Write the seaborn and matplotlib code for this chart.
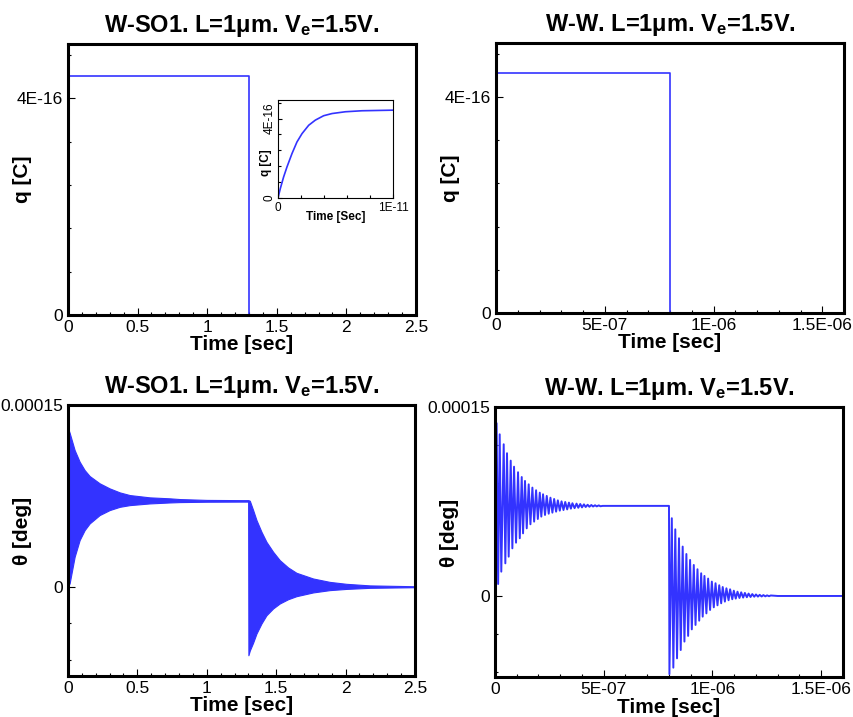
import numpy as np
import pandas as pd
import matplotlib
matplotlib.use('Agg')
import matplotlib.pyplot as plt
import seaborn as sns
from matplotlib.ticker import FixedLocator, FixedFormatter, MultipleLocator

# ---------------- data ----------------
# charge q(t): step, then switched off
q_so1_t = [0.0, 1.3, 1.3, 2.5]
q_so1_v = [4.41e-16, 4.41e-16, 0.0, 0.0]
q_ww_t = [0.0, 8.0e-7, 8.0e-7, 1.6e-6]
q_ww_v = [4.44e-16, 4.44e-16, 0.0, 0.0]

# inset: charging transient of W-SO1
inset_t = [0.0, 0.2e-12, 0.49e-12, 0.78e-12, 1.22e-12, 1.65e-12, 2.09e-12,
           2.67e-12, 3.25e-12, 3.97e-12, 4.70e-12, 5.86e-12, 7.30e-12, 10.0e-12]
inset_v = [0.0, 0.47e-16, 1.06e-16, 1.56e-16, 2.24e-16, 2.82e-16, 3.24e-16,
           3.66e-16, 3.92e-16, 4.14e-16, 4.25e-16, 4.34e-16, 4.39e-16, 4.42e-16]

# theta W-SO1: envelope of the (unresolved) fast oscillation
so1_env_t = [0.0, 0.012, 0.048, 0.084, 0.12, 0.156, 0.228, 0.30, 0.373, 0.445,
             0.589, 0.733, 0.806, 1.0, 1.26, 1.298,
             1.30, 1.31, 1.334, 1.358, 1.394, 1.43, 1.478, 1.526, 1.586, 1.646,
             1.766, 1.886, 2.006, 2.175, 2.5]
so1_env_hi = [13.1e-5, 12.7e-5, 11.28e-5, 10.32e-5, 9.63e-5, 9.14e-5, 8.54e-5, 8.12e-5, 7.79e-5, 7.57e-5,
              7.38e-5, 7.30e-5, 7.24e-5, 7.17e-5, 7.15e-5, 7.15e-5,
              7.15e-5, 7.10e-5, 6.33e-5, 5.51e-5, 4.54e-5, 3.71e-5, 2.89e-5, 2.20e-5, 1.60e-5, 1.16e-5,
              0.69e-5, 0.41e-5, 0.25e-5, 0.12e-5, 0.05e-5]
so1_env_lo = [0.0, 0.3e-5, 2.48e-5, 3.86e-5, 4.68e-5, 5.23e-5, 5.92e-5, 6.33e-5, 6.60e-5, 6.74e-5,
              6.88e-5, 6.96e-5, 6.99e-5, 7.02e-5, 7.03e-5, 7.03e-5,
              -5.64e-5, -5.25e-5, -4.6e-5, -3.85e-5, -3.02e-5, -2.34e-5, -1.78e-5, -1.37e-5, -1.02e-5, -0.77e-5,
              -0.46e-5, -0.27e-5, -0.17e-5, -0.08e-5, -0.03e-5]

# theta W-W: turning points of the oscillation
ww_hi_t = [0.75e-8, 2.17e-8, 4.01e-8, 5.53e-8, 7.23e-8, 8.76e-8, 10.6e-8, 12.3e-8, 13.8e-8, 15.5e-8,
           17.2e-8, 18.9e-8, 20.6e-8, 22.1e-8, 23.8e-8, 25.5e-8, 27.2e-8, 28.9e-8, 30.6e-8, 32.3e-8,
           34.0e-8, 35.6e-8, 37.5e-8, 39.2e-8, 40.9e-8, 42.6e-8, 44.3e-8, 46.0e-8, 47.7e-8,
           8.13e-7, 8.29e-7, 8.46e-7, 8.63e-7, 8.80e-7, 8.97e-7, 9.14e-7, 9.31e-7, 9.48e-7, 9.63e-7,
           9.80e-7, 9.97e-7, 10.14e-7, 10.31e-7, 10.47e-7, 10.64e-7, 10.81e-7, 10.98e-7, 11.15e-7, 11.32e-7,
           11.49e-7, 11.66e-7, 11.83e-7, 12.00e-7, 12.17e-7, 12.34e-7, 12.51e-7, 12.68e-7]
ww_hi_v = [13.71e-5, 12.83e-5, 12.04e-5, 11.33e-5, 10.74e-5, 10.26e-5, 9.82e-5, 9.44e-5, 9.13e-5, 8.86e-5,
           8.60e-5, 8.39e-5, 8.20e-5, 8.07e-5, 7.94e-5, 7.80e-5, 7.70e-5, 7.59e-5, 7.51e-5, 7.46e-5,
           7.41e-5, 7.36e-5, 7.33e-5, 7.30e-5, 7.27e-5, 7.24e-5, 7.22e-5, 7.20e-5, 7.19e-5,
           6.17e-5, 5.29e-5, 4.58e-5, 3.92e-5, 3.33e-5, 2.86e-5, 2.46e-5, 2.12e-5, 1.80e-5, 1.59e-5,
           1.38e-5, 1.14e-5, 1.01e-5, 0.85e-5, 0.71e-5, 0.61e-5, 0.53e-5, 0.42e-5, 0.34e-5, 0.29e-5,
           0.24e-5, 0.19e-5, 0.15e-5, 0.12e-5, 0.09e-5, 0.07e-5, 0.05e-5, 0.04e-5]
ww_lo_t = [1.45e-8, 2.9e-8, 4.76e-8, 6.3e-8, 7.99e-8, 9.68e-8, 11.4e-8, 12.9e-8, 14.6e-8, 16.3e-8,
           18.0e-8, 19.7e-8, 21.3e-8, 23.0e-8, 24.7e-8, 26.4e-8, 28.1e-8, 29.8e-8, 31.5e-8, 33.2e-8,
           34.9e-8, 36.6e-8, 38.3e-8, 40.0e-8, 41.7e-8, 43.4e-8, 45.1e-8, 46.8e-8, 48.5e-8,
           8.02e-7, 8.20e-7, 8.37e-7, 8.54e-7, 8.71e-7, 8.88e-7, 9.05e-7, 9.22e-7, 9.39e-7, 9.55e-7,
           9.72e-7, 9.89e-7, 10.06e-7, 10.23e-7, 10.40e-7, 10.57e-7, 10.74e-7, 10.91e-7, 11.07e-7, 11.24e-7,
           11.41e-7, 11.58e-7, 11.75e-7, 11.92e-7, 12.09e-7, 12.26e-7, 12.43e-7, 12.60e-7]
ww_lo_v = [0.95e-5, 1.93e-5, 2.59e-5, 3.12e-5, 3.78e-5, 4.23e-5, 4.58e-5, 4.97e-5, 5.37e-5, 5.69e-5,
           5.90e-5, 6.11e-5, 6.30e-5, 6.43e-5, 6.53e-5, 6.61e-5, 6.69e-5, 6.77e-5, 6.82e-5, 6.87e-5,
           6.93e-5, 6.97e-5, 7.00e-5, 7.03e-5, 7.06e-5, 7.08e-5, 7.10e-5, 7.11e-5, 7.12e-5,
           -6.2e-5, -5.69e-5, -4.95e-5, -4.29e-5, -3.62e-5, -3.17e-5, -2.65e-5, -2.30e-5, -1.96e-5, -1.64e-5,
           -1.38e-5, -1.11e-5, -0.90e-5, -0.74e-5, -0.58e-5, -0.45e-5, -0.34e-5, -0.26e-5, -0.21e-5, -0.16e-5,
           -0.13e-5, -0.10e-5, -0.08e-5, -0.06e-5, -0.05e-5, -0.04e-5, -0.03e-5, -0.02e-5]
# start, steady level, switch-off and rest
ww_fix_t = [0.0, 4.95e-7, 8.0e-7, 1.30e-6, 1.6e-6]
ww_fix_v = [0.0, 7.15e-5, 7.15e-5, 0.0, 0.0]

# ticks
title_so1 = 'W-SO1. L=1\u03bcm. V$_\\mathbf{e}$=1.5V.'
title_ww = 'W-W. L=1\u03bcm. V$_\\mathbf{e}$=1.5V.'
sec_ticks = [0, 0.5, 1, 1.5, 2, 2.5]
sec_labels = ['0', '0.5', '1', '1.5', '2', '2.5']
ww_ticks = [0, 5e-7, 1e-6, 1.5e-6]
ww_labels = ['0', '5E-07', '1E-06', '1.5E-06']
q_ticks = [0, 4e-16]
q_labels = ['0', '4E-16']
th_ticks = [0, 0.00015]
th_labels = ['0', '0.00015']
inset_xticks = [0, 1e-11]
inset_xlabels = ['0', '1E-11']

# ---------------- style ----------------
sns.set_style('ticks', rc={'axes.edgecolor': 'black', 'xtick.color': 'black',
                           'ytick.color': 'black', 'text.color': 'black',
                           'axes.labelcolor': 'black'})
plt.rcParams['font.family'] = ['Liberation Sans', 'DejaVu Sans']
plt.rcParams['mathtext.fontset'] = 'custom'
plt.rcParams['mathtext.rm'] = 'Liberation Sans'
plt.rcParams['mathtext.bf'] = 'Liberation Sans:bold'
plt.rcParams['mathtext.it'] = 'Liberation Sans:italic'

BLUE = '#3333ff'


def style_axes(ax, xlim, ylim, xt, xtl, xminor, yt, ytl, yminor,
               lw=2.2, size=12.5, major=5, minor=2.5, pad=3.5):
    ax.set_xlim(xlim)
    ax.set_ylim(ylim)
    ax.xaxis.set_major_locator(FixedLocator(xt))
    ax.xaxis.set_major_formatter(FixedFormatter(xtl))
    ax.xaxis.set_minor_locator(MultipleLocator(xminor))
    ax.yaxis.set_major_locator(FixedLocator(yt))
    ax.yaxis.set_major_formatter(FixedFormatter(ytl))
    ax.yaxis.set_minor_locator(MultipleLocator(yminor))
    ax.tick_params(which='both', direction='in', top=False, right=False,
                   labelsize=size, pad=pad, width=0.8)
    ax.tick_params(which='major', length=major)
    ax.tick_params(which='minor', length=minor)
    for s in ax.spines.values():
        s.set_visible(True)
        s.set_linewidth(lw)
        s.set_color('black')


def labels(ax, title, ylab, ly=0.5, lx=-0.075):
    ax.set_title(title, fontsize=17, fontweight='bold', pad=8.5)
    ax.set_xlabel('Time [sec]', fontsize=15, fontweight='bold')
    ax.set_ylabel(ylab, fontsize=15, fontweight='bold')
    ax.xaxis.set_label_coords(0.5, lx)
    ax.yaxis.set_label_coords(-0.103, ly)


fig = plt.figure(figsize=(8.54, 7.17), dpi=100)
ax1 = fig.add_axes([0.0796, 0.5607, 0.4075, 0.3780])
ax2 = fig.add_axes([0.5808, 0.5635, 0.4075, 0.3766])
ax3 = fig.add_axes([0.0796, 0.0572, 0.4063, 0.3780])
ax4 = fig.add_axes([0.5796, 0.0558, 0.4075, 0.3766])
axin = fig.add_axes([0.3255, 0.7238, 0.1347, 0.1367])

# top left: q, W-SO1
sns.lineplot(x=q_so1_t, y=q_so1_v, ax=ax1, sort=False, estimator=None,
             color=BLUE, lw=1.2, legend=False)
style_axes(ax1, (0, 2.5), (0, 5e-16), sec_ticks, sec_labels, 0.1,
           q_ticks, q_labels, 0.8e-16)
labels(ax1, title_so1, 'q [C]')

# inset
sns.lineplot(x=inset_t, y=inset_v, ax=axin, sort=False, estimator=None,
             color=BLUE, lw=1.2, legend=False)
style_axes(axin, (0, 1e-11), (0, 4.93e-16), inset_xticks, inset_xlabels, 2e-12,
           q_ticks, q_labels, 0.8e-16, lw=0.8, size=8.5, major=3, minor=2.5, pad=2.5)
axin.tick_params(axis='y', labelrotation=90, pad=1.5)
for t in axin.get_yticklabels():
    t.set_va('center')
axin.set_xlabel('Time [Sec]', fontsize=8.5, fontweight='bold')
axin.set_ylabel('q [C]', fontsize=8.5, fontweight='bold')
axin.xaxis.set_label_coords(0.5, -0.13)
axin.yaxis.set_label_coords(-0.052, 0.36)
axin.set_facecolor('white')

# top right: q, W-W
sns.lineplot(x=q_ww_t, y=q_ww_v, ax=ax2, sort=False, estimator=None,
             color=BLUE, lw=1.2, legend=False)
style_axes(ax2, (0, 1.6e-6), (0, 5e-16), ww_ticks, ww_labels, 1e-7,
           q_ticks, q_labels, 0.8e-16)
labels(ax2, title_ww, 'q [C]')

# bottom left: theta, W-SO1 (envelope band)
ax3.fill_between(so1_env_t, so1_env_lo, so1_env_hi, color=BLUE, lw=0.8,
                 edgecolor=BLUE)
style_axes(ax3, (0, 2.5), (-7.35e-5, 1.5e-4), sec_ticks, sec_labels, 0.1,
           th_ticks, th_labels, 3e-5)
labels(ax3, title_so1, '\u03b8 [deg]', ly=0.535)

# bottom right: theta, W-W
ww = pd.concat([
    pd.DataFrame({'t': ww_hi_t, 'v': ww_hi_v}),
    pd.DataFrame({'t': ww_lo_t, 'v': ww_lo_v}),
    pd.DataFrame({'t': ww_fix_t, 'v': ww_fix_v}),
]).sort_values('t', kind='stable')
sns.lineplot(data=ww, x='t', y='v', ax=ax4, sort=False, estimator=None,
             color=BLUE, lw=1.4, legend=False)
style_axes(ax4, (0, 1.6e-6), (-6.43e-5, 1.5e-4), ww_ticks, ww_labels, 1e-7,
           th_ticks, th_labels, 3e-5)
labels(ax4, title_ww, '\u03b8 [deg]', ly=0.535, lx=-0.077)

fig.savefig('out.png', dpi=100)
